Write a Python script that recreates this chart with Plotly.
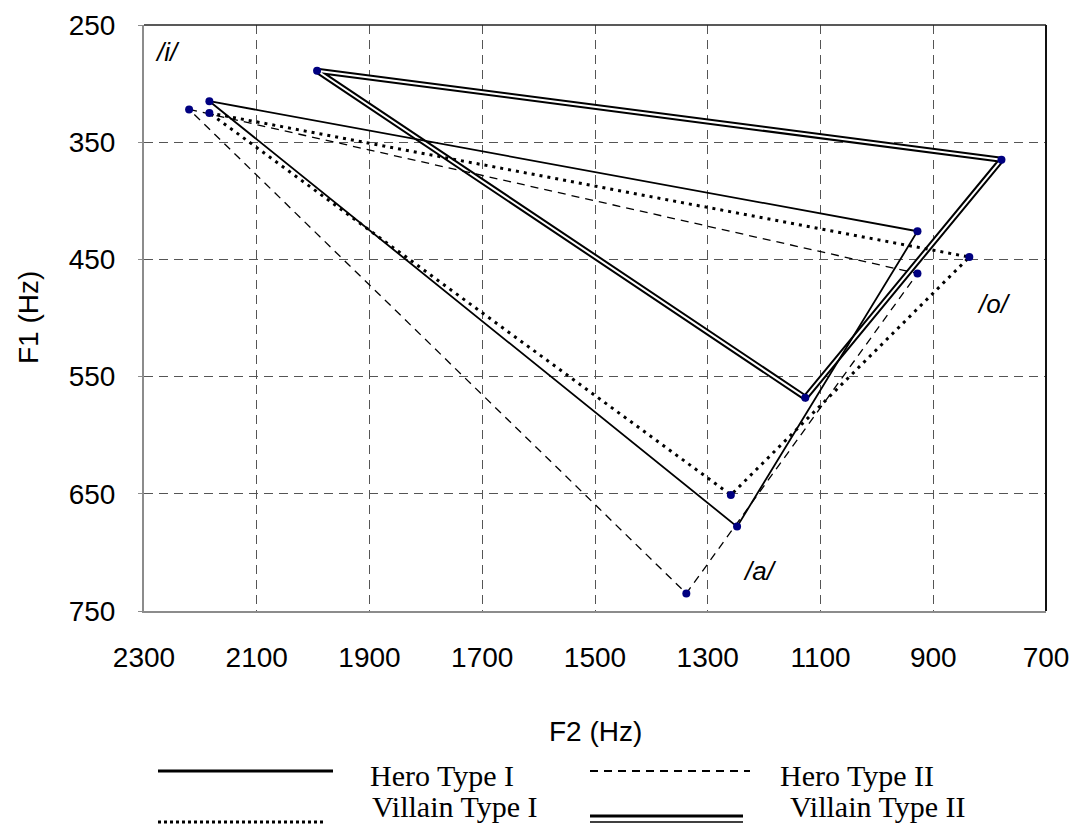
import plotly.graph_objects as go

# Vowel formant data (F2, F1) in Hz, order: /i/, /o/, /a/
vowels = ["/i/", "/o/", "/a/"]
hero1_f2 = [2184, 928, 1248]
hero1_f1 = [315, 426, 678]
hero2_f2 = [2220, 928, 1338]
hero2_f1 = [322, 462, 735]
villain1_f2 = [2184, 836, 1259]
villain1_f1 = [325, 448, 651]
villain2_f2 = [1993, 779, 1127]
villain2_f1 = [289, 365, 568]

x_ticks = [2300, 2100, 1900, 1700, 1500, 1300, 1100, 900, 700]
y_ticks = [250, 350, 450, 550, 650, 750]

label_f2 = [2259, 792, 1207]
label_f1 = [273, 488, 716]
label_text = ["/i/", "/o/", "/a/"]

W, H = 1073, 828
ML, MR, MT, MB = 144, 27, 25, 217
PW, PH = W - ML - MR, H - MT - MB


def px(x):
    return (x - ML) / PW


def py(y):
    return (H - MB - y) / PH


def closed(a):
    return list(a) + [a[0]]


MARK = dict(color="#000080", size=8)
fig = go.Figure()

# Villain Type II: double line (thick black + thin white core)
fig.add_trace(go.Scatter(x=closed(villain2_f2), y=closed(villain2_f1), mode="lines",
                         line=dict(color="black", width=6), showlegend=False, hoverinfo="skip"))
fig.add_trace(go.Scatter(x=closed(villain2_f2), y=closed(villain2_f1), mode="lines",
                         line=dict(color="white", width=2), showlegend=False, hoverinfo="skip"))
# Hero Type I solid
fig.add_trace(go.Scatter(x=closed(hero1_f2), y=closed(hero1_f1), mode="lines",
                         line=dict(color="black", width=1.8), name="Hero Type I", showlegend=False))
# Hero Type II dashed
fig.add_trace(go.Scatter(x=closed(hero2_f2), y=closed(hero2_f1), mode="lines",
                         line=dict(color="black", width=1.3, dash="8px,6px"), name="Hero Type II", showlegend=False))
# Villain Type I dotted
fig.add_trace(go.Scatter(x=closed(villain1_f2), y=closed(villain1_f1), mode="lines",
                         line=dict(color="black", width=3, dash="3px,5px"), name="Villain Type I", showlegend=False))

# markers
for xs, ys in [(hero1_f2, hero1_f1), (hero2_f2, hero2_f1), (villain1_f2, villain1_f1), (villain2_f2, villain2_f1)]:
    fig.add_trace(go.Scatter(x=xs, y=ys, mode="markers", marker=MARK, showlegend=False))

# vowel labels (italic)
for lx, ly, lt in zip(label_f2, label_f1, label_text):
    fig.add_annotation(x=lx, y=ly, text="<i>" + lt + "</i>", showarrow=False,
                       font=dict(family="Liberation Sans, Arial", size=26, color="black"),
                       xanchor="center", yanchor="middle")

grid = dict(showgrid=True, gridcolor="#555555", gridwidth=1, griddash="9px,6px")
tickfont = dict(family="Liberation Sans, Arial", size=28, color="black")

fig.update_xaxes(range=[2300, 700], tickvals=x_ticks, ticktext=[str(v) for v in x_ticks],
                 autorange=False, showline=True, linecolor="#8c8c8c", linewidth=2,
                 zeroline=False, ticks="", tickfont=tickfont, ticklabelstandoff=20, **grid)
fig.update_yaxes(range=[750, 250], tickvals=y_ticks, ticktext=[str(v) for v in y_ticks],
                 autorange=False, showline=True, linecolor="#8c8c8c", linewidth=2,
                 zeroline=False, ticks="outside", ticklen=4, tickcolor="#8c8c8c",
                 tickfont=tickfont, ticklabelstandoff=17, **grid)

shapes = []
# top and right plot border (black)
shapes.append(dict(type="line", xref="paper", yref="paper", x0=0, x1=1, y0=1, y1=1,
                   line=dict(color="#222222", width=1.5)))
shapes.append(dict(type="line", xref="paper", yref="paper", x0=1, x1=1, y0=0, y1=1,
                   line=dict(color="#111111", width=2)))

# legend samples
shapes.append(dict(type="line", xref="paper", yref="paper", x0=px(158), x1=px(333), y0=py(771), y1=py(771),
                   line=dict(color="black", width=3)))
shapes.append(dict(type="line", xref="paper", yref="paper", x0=px(590), x1=px(750), y0=py(771), y1=py(771),
                   line=dict(color="black", width=2, dash="8px,6px")))
shapes.append(dict(type="line", xref="paper", yref="paper", x0=px(158), x1=px(325), y0=py(822), y1=py(822),
                   line=dict(color="black", width=3, dash="3px,3px")))
shapes.append(dict(type="line", xref="paper", yref="paper", x0=px(590), x1=px(743), y0=py(816), y1=py(816),
                   line=dict(color="black", width=3)))
shapes.append(dict(type="line", xref="paper", yref="paper", x0=px(590), x1=px(743), y0=py(822), y1=py(822),
                   line=dict(color="black", width=1.5)))
fig.update_layout(shapes=shapes)

serif = dict(family="Liberation Serif, Times New Roman", size=30, color="black")
legend_items = [("Hero Type I", 368, 775), ("Hero Type II", 778, 775),
                ("Villain Type I", 370, 806), ("Villain Type II", 788, 806)]
for txt, lx, ly in legend_items:
    fig.add_annotation(xref="paper", yref="paper", x=px(lx), y=py(ly), text=txt, showarrow=False,
                       xanchor="left", yanchor="middle", font=serif)

sans = dict(family="Liberation Sans, Arial", size=28, color="black")
fig.add_annotation(xref="paper", yref="paper", x=px(595), y=py(731), text="F2 (Hz)", showarrow=False,
                   xanchor="center", yanchor="middle", font=sans)
fig.add_annotation(xref="paper", yref="paper", x=px(28), y=py(318), text="F1 (Hz)", showarrow=False,
                   xanchor="center", yanchor="middle", textangle=-90, font=sans)

fig.update_layout(width=W, height=H, margin=dict(l=ML, r=MR, t=MT, b=MB, autoexpand=False),
                  plot_bgcolor="white", paper_bgcolor="white", showlegend=False)

fig.write_html("out.html", config={"displayModeBar": False},
               post_script="document.body.style.margin='0';")
